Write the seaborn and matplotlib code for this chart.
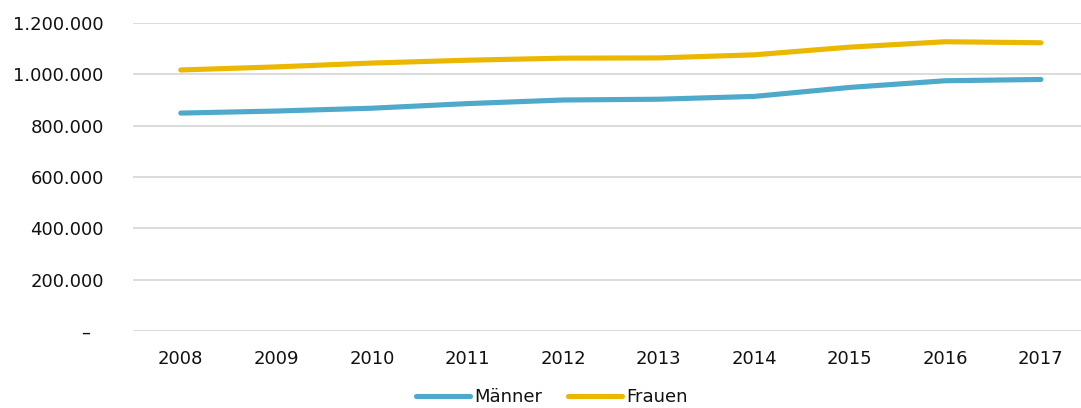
import matplotlib
matplotlib.use("Agg")
import matplotlib.pyplot as plt
import seaborn as sns
import pandas as pd
from matplotlib.ticker import FuncFormatter

years = ["2008", "2009", "2010", "2011", "2012", "2013", "2014", "2015", "2016", "2017"]
maenner = [849000, 857000, 868000, 886000, 900000, 903000, 914000, 949000, 975000, 980000]
frauen = [1017000, 1029000, 1044000, 1055000, 1063000, 1064000, 1076000, 1106000, 1127000, 1123000]
series_names = ["Männer", "Frauen"]
colors = ["#4FA9CB", "#EBB700"]

df = pd.DataFrame({"Jahr": years * 2,
                   "Wert": maenner + frauen,
                   "Serie": [series_names[0]] * len(years) + [series_names[1]] * len(years)})

sns.set_theme(style="white")
plt.rcParams['font.family'] = ['DejaVu Sans']

fig = plt.figure(figsize=(10.81, 4.08), dpi=100)
ax = fig.add_axes([133 / 1081, 1 - 331 / 408, (1081 - 133) / 1081, (331 - 23) / 408])

sns.lineplot(data=df, x="Jahr", y="Wert", hue="Serie", palette=colors,
             linewidth=3.7, ax=ax, sort=False, solid_capstyle="round", legend=True)

ax.set_ylim(0, 1200000)
ax.set_xlim(-0.5, 9.42)
ax.set_yticks(range(0, 1200001, 200000))

def fmt(v, pos):
    if v == 0:
        return "–\u2002\u2009"
    return f"{int(v):,}".replace(",", ".")

ax.yaxis.set_major_formatter(FuncFormatter(fmt))
ax.grid(axis="y", color="#D9D9D9", linewidth=1.3)
ax.grid(axis="x", visible=False)
for s in ax.spines.values():
    s.set_visible(False)
ax.tick_params(axis="both", length=0, labelsize=13, colors="#111111")
ax.tick_params(axis="y", pad=21)
ax.tick_params(axis="x", pad=14)
ax.set_xlabel("")
ax.set_ylabel("")

handles, labels = ax.get_legend_handles_labels()
ax.get_legend().remove()
leg = fig.legend(handles, labels, loc="center", bbox_to_anchor=(552 / 1081, 1 - 397 / 408), ncol=2,
                 frameon=False, fontsize=13, handlelength=3.0, handletextpad=0.25, columnspacing=1.4)
for text in leg.get_texts():
    text.set_color("#111111")
for line in leg.get_lines():
    line.set_linewidth(3.7)
    line.set_solid_capstyle("round")

fig.savefig("out.png", dpi=100)
